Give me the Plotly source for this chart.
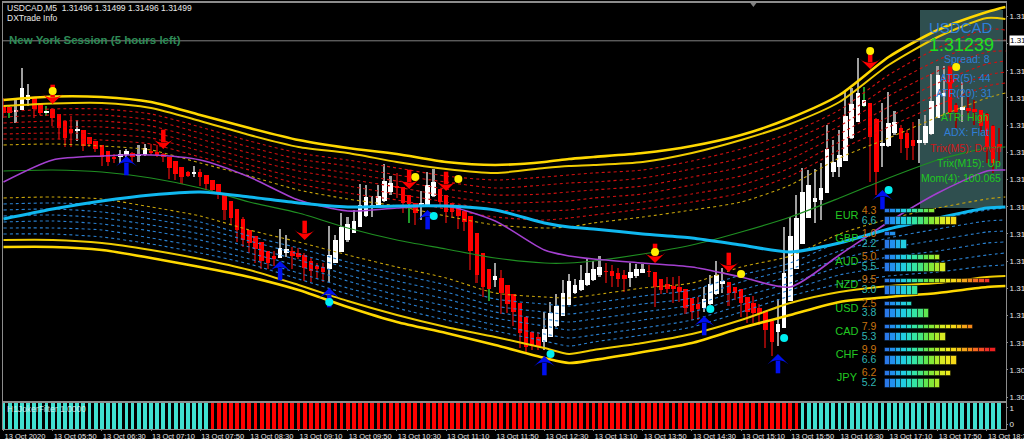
import plotly.graph_objects as go

# Price model: each reading is a count of "steps" below TOP_PRICE
TOP_PRICE = 1.31269
STEP = 0.00020 / 27.2

def price(t):
    return TOP_PRICE - t * STEP

body_top = [
    106,107,110,88,95,97,103,111,109,114,
    121,129,129,130,137,141,145,151,157,154,
    151,153,154,148,151,152,154,157,161,167,
    172,172,172,175,180,184,193,201,209,219,
    230,236,242,251,256,248,249,251,253,255,
    261,266,267,255,240,227,224,221,205,197,
    205,196,181,183,186,187,195,203,203,185,
    182,189,195,203,207,211,216,233,253,269,
    276,278,285,294,303,317,332,337,329,313,
    306,293,281,285,280,273,269,267,271,271,
    273,275,272,269,269,271,272,279,284,286,
    287,289,298,304,299,284,275,281,282,287,
    289,297,303,308,311,321,324,273,236,218,
    192,185,198,188,149,162,155,116,104,93,
    100,103,119,143,123,122,128,133,140,140,
    126,101,75,93,80,105,107,108,109,110,
    114,126,144]
body_bot = [
    113,113,112,110,100,109,113,113,118,128,
    138,133,131,146,144,149,157,162,159,157,
    155,157,156,155,153,155,157,168,174,177,
    176,174,177,184,190,193,210,218,230,240,
    243,249,261,263,259,258,253,256,257,268,
    271,269,272,269,263,252,240,233,227,216,
    208,206,201,192,188,203,204,213,206,205,
    196,202,212,212,216,222,251,275,287,289,
    280,293,304,312,333,347,346,346,342,337,
    326,316,305,293,290,285,280,275,272,276,
    279,279,278,276,273,272,287,290,289,289,
    292,308,312,309,308,304,294,284,293,293,
    303,312,313,314,330,342,332,328,301,269,
    244,218,202,200,193,172,167,161,138,122,
    106,137,172,146,146,133,139,148,146,143,
    143,134,118,96,112,112,110,111,112,126,
    147,163,147]
wick_hi = [
    98,106,100,68,84,97,103,106,108,114,
    121,116,120,130,137,141,145,151,154,150,
    149,152,145,144,144,145,153,157,161,167,
    171,166,169,175,180,184,193,201,209,217,
    230,236,242,251,251,229,235,247,248,253,
    258,263,263,226,235,213,217,210,184,185,
    196,185,164,176,173,187,195,203,191,172,
    169,189,195,203,207,211,216,233,253,269,
    263,270,285,294,303,317,332,332,312,302,
    294,280,274,279,265,258,261,256,263,265,
    268,270,263,264,264,265,272,279,277,277,
    276,289,298,297,287,275,261,268,282,287,
    289,297,296,304,311,321,299,227,217,195,
    168,170,169,163,125,140,130,91,88,58,
    87,103,118,103,92,111,125,130,122,119,
    115,74,66,66,68,103,82,97,100,110,
    113,125,128]
wick_lo = [
    118,118,123,110,106,118,115,116,126,139,
    147,147,141,151,147,152,166,166,163,163,
    157,162,162,156,155,157,162,179,180,184,
    177,177,186,190,192,199,220,225,242,247,
    253,263,269,269,266,258,257,269,259,281,
    282,279,282,282,263,252,242,233,227,217,
    217,206,202,195,198,213,223,225,220,205,
    197,205,223,218,229,231,270,283,297,301,
    287,314,313,326,348,353,350,350,350,337,
    327,316,305,294,291,286,281,277,283,287,
    287,292,287,278,273,277,307,294,293,303,
    302,314,320,320,312,305,295,293,306,300,
    317,323,323,325,348,356,346,328,301,269,
    244,218,223,220,193,177,177,161,139,122,
    107,182,195,167,147,135,153,160,160,163,
    145,135,118,115,118,128,122,115,125,132,
    163,173,163]
direction = ("dduuuddudd" "dduddddddu" "uduudddddd" "dudddddddd" "ddddduuddd"
             "ddduuuuuuu" "uuuudddduu" "uddddddddd" "uddddddduu" "uuuuuuuudd"
             "dduuuddddd" "dddduuuudd" "dddddduuuu" "uuuuuuuuuu" "udduuudddu"
             "uuuuddu" "ddd" "ddd")
green_wick_bars = [1, 7, 66, 79, 140]

knots = [0,8,16,24,32,40,48,56,64,72,80,88,92,96,104,112,120,128,136,144,152,160,163]
yellow_up_1 = [100,96.5,97,102,115,128,140,148,154,162,165,162,159,157,153,146,135,118,95,57,30,12,7]
yellow_up_2 = [106,103.5,103,108,121,135,147,153,162,169,173,168,166,165,162,153,140,124,102,65,37,18,19]
red_1 = [112,109,109,114,127,141,153,160,168,176,180,177,175,173,170,161,149,133,110,75,48,29,30]
red_2 = [117,115,115,120,133,147,159,166,175,182,188,185,183,182,178,169,158,141,118,86,60,41,40]
red_3 = [123,121,121,126,139,153,165,173,181,189,195,194,192,190,186,177,167,150,126,96,71,52,51]
red_4 = [128,127,127,132,145,159,171,179,187,196,203,202,201,198,194,185,176,159,134,107,83,64,61]
red_5 = [134,133,134,138,151,165,178,186,194,202,210,211,210,207,202,194,185,168,142,117,94,75,72]
red_6 = [139,139,140,144,157,170,184,193,200,209,217,220,218,215,209,202,193,176,150,127,105,86,83]
gold_up = [145,144,146,150,163,176,190,199,206,216,225,228,227,223,217,210,202,185,158,138,117,98,93]
gold_lo = [198,197,199,207,216,230,242,255,267,278,293,297,298,295,288,283,267,256,234,219,208,199,197]
blue_1 = [204,203,205,213,222,236,248,262,274,285,299,304,306,303,296,290,275,263,242,229,219,210,208]
blue_2 = [210,209,212,219,228,241,254,268,281,292,306,312,314,311,304,298,282,269,251,238,229,221,220]
blue_3 = [216,215,218,225,234,247,260,275,288,299,312,319,322,319,312,305,290,276,259,248,240,232,231]
blue_4 = [222,221,224,231,240,253,266,281,295,306,318,326,330,327,320,312,297,283,267,257,251,243,242]
blue_5 = [228,228,230,238,247,259,273,288,301,313,325,334,338,335,328,320,305,290,275,267,262,255,253]
blue_6 = [234,234,237,244,253,264,279,294,308,320,331,341,346,342,335,327,312,296,284,276,272,266,265]
yellow_lo_1 = [240,240,243,250,259,270,285,301,315,327,337,348,354,350,343,334,320,303,292,286,283,277,276]
yellow_lo_2 = [247,247,250,258,267,277,290,307,322,333,345,358,363,360,352,343,328,315,302,297,293,287,286]
ma_green = [171,170,172,178,188,202,213,228,240,249,258,263,263,261,254,245,232,217,198,178,160,148,147]
ma_purple = [182,160,156,155,160,177,200,211,208,206,221,250,256,259,263,267,277,287,255,222,193,171,170]
ma_cyan = [219,209,201,195,192,197,203,207,206,206,210,223,227,229,234,238,245,252,243,229,218,208,207]

sell_k = [8,26,49,66,72,106,118,141,154]
sell_t = [95,140,231,180,182,254,263,60,77]
buy_k = [20,45,53,69,88,114,126,143]
buy_t = [165,270,297,219,365,325,363,199]
yellow_dot_k = [8,67,74,106,120,141,155]
yellow_dot_t = [91,177,179,252,274,51,67]
cyan_dot_k = [53,70,89,115,127,144]
cyan_dot_t = [302,216,354,309,338,190]

filter_runs = [("up", 34), ("down", 96), ("up", 33)]

currencies = ["EUR","GBP","AUD","NZD","USD","CAD","CHF","JPY"]
strength_h1 = [4.3,1.0,5.0,9.5,2.5,7.9,9.9,6.2]
strength_h4 = [6.6,2.2,5.5,3.0,3.8,5.3,6.6,5.2]
segment_colors = ["#2a78e8","#2290ee","#22b0ea","#22cce0","#2adcc8","#34e4a4","#46e480","#60e650",
                  "#84e838","#acea2c","#d8ea24","#eeea1c","#f4d818","#f4c018","#f4a418","#f48818",
                  "#f46820","#f44c24","#f03028","#ee2020"]

tick_labels = ["13 Oct 2020","13 Oct 05:50","13 Oct 06:30","13 Oct 07:10","13 Oct 07:50","13 Oct 08:30",
               "13 Oct 09:10","13 Oct 09:50","13 Oct 10:30","13 Oct 11:10","13 Oct 11:50","13 Oct 12:30",
               "13 Oct 13:10","13 Oct 13:50","13 Oct 14:30","13 Oct 15:10","13 Oct 15:50","13 Oct 16:30",
               "13 Oct 17:10","13 Oct 17:50","13 Oct 18:30"]
price_ticks = [1.31257 - 0.0002 * n for n in range(15)]
price_tick_text = ["1.31", ""] + ["1.31"] * 11 + ["1.30"] * 2
current_price = 1.31239

info_lines = [("USDCAD","#2f7fd8",15,961,28),("1.31239","#1fe01f",18,961,45),("Spread: 8","#2f7fd8",10.5,967,59),
              ("ATR(5): 44","#2f7fd8",10.5,965,78),("ATR(20): 31","#2f7fd8",10.5,964,93),
              ("ATR: High","#1fc81f",10.5,965,117),("ADX: Flat","#2f7fd8",10.5,966,132),
              ("Trix(M5): Down","#d01818",10.5,966,148),("Trix(M15): Up","#1fc81f",10.5,969,163),
              ("Mom(4): 100.065","#1fc81f",10.5,961,178)]

W, H = 1024, 439
L, R, T, B = 3, 1006, 3, 429
MAIN_BOTTOM, SUB_TOP = 401, 403
FONT = "Liberation Sans"
def px(x): return (x - L) / (R - L)
def py(y): return (B - y) / (B - T)

n = len(body_top)
idx = list(range(n))
xrange_k = [-0.08, 163.1]
main_range = [price(MAIN_BOTTOM), price(T)]

fig = go.Figure()

# candles
wick_colors = []
for i in idx:
    if i in green_wick_bars:
        wick_colors.append("#1f9a2a")
    else:
        wick_colors.append("#a0a0a0" if direction[i] == "u" else "#8e0808")
fig.add_trace(go.Bar(x=idx, base=[price(v) for v in wick_lo],
                     y=[price(a) - price(b) for a, b in zip(wick_hi, wick_lo)],
                     width=0.26, marker=dict(color=wick_colors, line_width=0), showlegend=False))
fig.add_trace(go.Bar(x=idx, base=[price(v) for v in body_bot],
                     y=[price(a) - price(b) for a, b in zip(body_top, body_bot)],
                     width=0.74, marker=dict(color=["#ffffff" if d == "u" else "#ff0000" for d in direction], line_width=0),
                     showlegend=False))

def line(ts, color, width, dash="solid"):
    fig.add_trace(go.Scatter(x=knots, y=[price(v) for v in ts], mode="lines",
                             line=dict(color=color, width=width, dash=dash, shape="spline", smoothing=0.7), showlegend=False))

for s in (red_1, red_2, red_3, red_4, red_5, red_6):
    line(s, "#d01010", 1.1, "3px 3px")
for s in (blue_1, blue_2, blue_3, blue_4, blue_5, blue_6):
    line(s, "#2a80d0", 1.1, "3px 3px")
line(gold_up, "#c8a40a", 1.1, "3px 3px")
line(gold_lo, "#c8a40a", 1.1, "3px 3px")
line(ma_green, "#1f8f22", 1.2)
line(ma_purple, "#a440d0", 1.6)
line(ma_cyan, "#10b8f0", 3)
line(yellow_up_1, "#ffd800", 2.6)
line(yellow_up_2, "#f0cc00", 2)
line(yellow_lo_1, "#f0cc00", 2)
line(yellow_lo_2, "#ffd800", 2.6)

# signal arrows: head (tip past the centre) and shaft
def arrow(ks, ts, color, sign, angle):
    fig.add_trace(go.Scatter(x=ks, y=[price(t - 4 * sign) for t in ts], mode="markers",
                             marker=dict(symbol="line-ns", size=9, line=dict(color=color, width=4.5)), showlegend=False))
    fig.add_trace(go.Scatter(x=ks, y=[price(t + 9 * sign) for t in ts], mode="markers",
                             marker=dict(symbol="arrow-wide", angle=angle, size=15, color=color, line_width=0), showlegend=False))

arrow(sell_k, sell_t, "#ff0000", 1, 180)
arrow(buy_k, buy_t, "#0010f0", -1, 0)
fig.add_trace(go.Scatter(x=yellow_dot_k, y=[price(v) for v in yellow_dot_t], mode="markers",
                         marker=dict(color="#ffee00", size=8, line_width=0), showlegend=False))
fig.add_trace(go.Scatter(x=cyan_dot_k, y=[price(v) for v in cyan_dot_t], mode="markers",
                         marker=dict(color="#00eef0", size=8, line_width=0), showlegend=False))
fig.add_trace(go.Scatter(x=[122], y=[price(4)], mode="markers",
                         marker=dict(symbol="triangle-down", color="#808080", size=6, line_width=0), showlegend=False))

# filter histogram
states = [s for s, c in filter_runs for _ in range(c)]
fig.add_trace(go.Bar(x=idx, base=[-0.31] * n, y=[1.62] * n, xaxis="x2", yaxis="y2", width=0.62,
                     marker=dict(color=["#40e0d0" if s == "up" else "#ff0000" for s in states], line_width=0), showlegend=False))

# currency strength
for r, (h1, h4) in enumerate(zip(strength_h1, strength_h4)):
    for vals, off, wid in ((h1, -0.215, 0.18), (h4, 0.215, 0.38)):
        seg = int(round(vals * 2))
        fig.add_trace(go.Bar(x=[0.5] * seg, base=[i * 0.5 for i in range(seg)], y=[r + off] * seg, width=[wid] * seg,
                             orientation="h", xaxis="x3", yaxis="y3",
                             marker=dict(color=segment_colors[:seg], line=dict(color="rgba(0,0,0,0.45)", width=1)),
                             showlegend=False))
rows = list(range(8))
fig.add_trace(go.Scatter(x=[-3.4] * 8, y=rows, text=currencies, mode="text", xaxis="x3", yaxis="y3",
                         textfont=dict(family=FONT, size=11, color="#22c822"), showlegend=False))
fig.add_trace(go.Scatter(x=[-1.41] * 8, y=[r - 0.215 for r in rows], text=[f"{v:.1f}" for v in strength_h1], mode="text",
                         xaxis="x3", yaxis="y3", textfont=dict(family=FONT, size=10.5, color="#c87410"), showlegend=False))
fig.add_trace(go.Scatter(x=[-1.41] * 8, y=[r + 0.215 for r in rows], text=[f"{v:.1f}" for v in strength_h4], mode="text",
                         xaxis="x3", yaxis="y3", textfont=dict(family=FONT, size=10.5, color="#30b4b4"), showlegend=False))

annotations = []
def note(text, x, y, size, color, xanchor="left", **kw):
    annotations.append(dict(text=text, x=px(x), y=py(y), xref="paper", yref="paper", xanchor=xanchor, yanchor="middle",
                            showarrow=False, font=dict(family=FONT, size=size, color=color), **kw))

for txt, col, size, x, y in info_lines:
    note(txt, x, y, size, col, xanchor="center")
note("USDCAD,M5  1.31496 1.31499 1.31496 1.31499", 5, 8, 8.5, "#e8e8e8")
note("DXTrade Info", 5, 18, 8.5, "#e8e8e8")
note("<b>New York Session (5 hours left)</b>", 7, 40, 11.5, "#2e8b57")
note("H1JokerFilter 1.0000", 5, 409, 8.5, "rgba(235,245,245,0.8)")
note("1.31", 1009, 41, 8, "#000000", borderpad=0, width=15, align="left", bgcolor="#ffffff")

frame = "#8c8c8c"
fig.update_layout(
    width=W, height=H, margin=dict(l=L, r=W - R, t=T, b=H - B, pad=0, autoexpand=False),
    paper_bgcolor="#000000", plot_bgcolor="rgba(0,0,0,0)", barmode="overlay", bargap=0,
    showlegend=False, annotations=annotations,
    shapes=[
        dict(type="rect", xref="paper", yref="paper", x0=px(920), x1=px(1003), y0=py(208), y1=py(10),
             fillcolor="#2f4f4f", line_width=0, layer="below"),
        dict(type="line", xref="paper", yref="y", x0=0, x1=1, y0=current_price, y1=current_price,
             line=dict(color="#808080", width=1), layer="above"),
    ],
    xaxis=dict(range=xrange_k, domain=[0, 1], anchor="y", showticklabels=False, ticks="", showgrid=False,
               zeroline=False, showline=True, linecolor=frame, linewidth=2, mirror=True, automargin=False),
    yaxis=dict(range=main_range, domain=[py(MAIN_BOTTOM), 1], anchor="x", side="right", showgrid=False, zeroline=False,
               showline=True, linecolor=frame, linewidth=1, mirror=True, tickvals=price_ticks,
               ticktext=price_tick_text, ticks="outside", ticklen=1, tickcolor=frame, automargin=False,
               tickfont=dict(family=FONT, size=8, color="#e8e8e8"), ticklabeloverflow="allow"),
    xaxis2=dict(range=xrange_k, domain=[0, 1], anchor="y2", showgrid=False, zeroline=False, showline=True,
                linecolor=frame, linewidth=1, mirror=True, tickvals=list(range(0, 161, 8)), ticktext=tick_labels,
                tickangle=0, ticks="outside", ticklen=1, tickcolor=frame, ticklabelposition="outside right",
                ticklabeloverflow="allow", automargin=False, tickfont=dict(family=FONT, size=7.5, color="#e8e8e8")),
    yaxis2=dict(range=[-0.31, 1.31], domain=[0, py(SUB_TOP)], anchor="x2", side="right", showgrid=False, zeroline=False,
                showline=True, linecolor=frame, linewidth=1, mirror=True, tickvals=[0, 1], ticktext=["0", "1"],
                ticks="outside", ticklen=1, tickcolor=frame, automargin=False,
                tickfont=dict(family=FONT, size=8, color="#e8e8e8"), ticklabeloverflow="allow"),
    xaxis3=dict(range=[-79.43, 10.93], overlaying="x", anchor="y3", visible=False),
    yaxis3=dict(range=[7.97, -9.18], overlaying="y", anchor="x3", domain=[py(MAIN_BOTTOM), 1], visible=False),
)

fig.write_html("out.html", config={"displayModeBar": False},
               post_script="document.body.style.margin='0';document.body.style.background='#000';document.body.style.overflow='hidden';")
